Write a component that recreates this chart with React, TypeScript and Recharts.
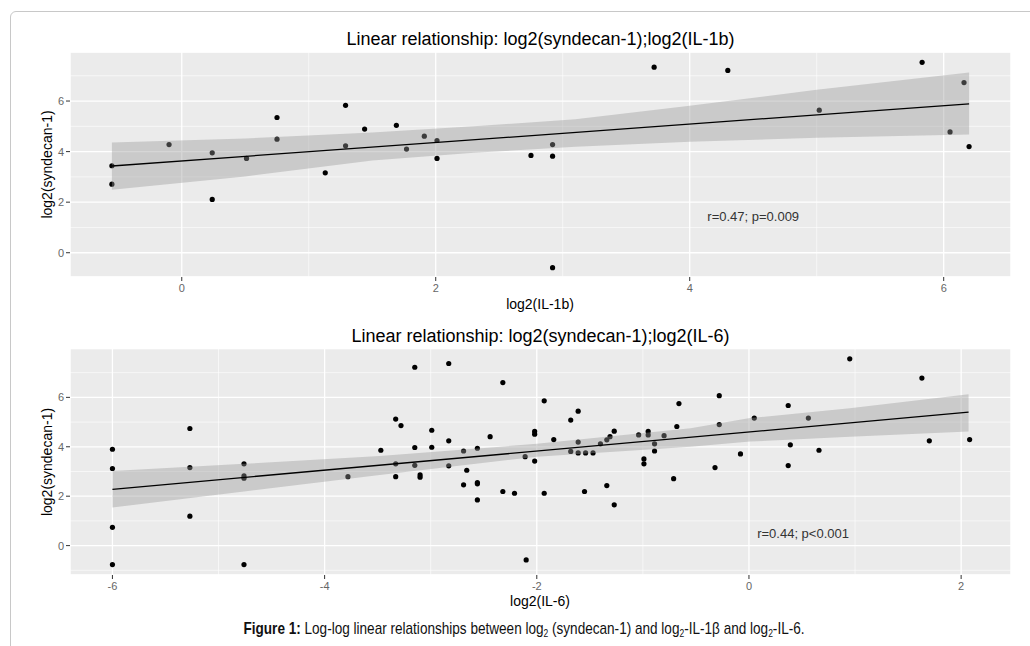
import React from "react";
import {
  ComposedChart,
  XAxis,
  YAxis,
  CartesianGrid,
  Scatter,
  Area,
  Line,
  ReferenceDot,
} from "recharts";

// points: [log2(IL-1b), log2(syndecan-1)]
const il1bPoints = [
  [-0.55, 3.44], [-0.55, 2.71], [-0.1, 4.28], [0.24, 3.95], [0.24, 2.11],
  [0.51, 3.73], [0.75, 5.35], [0.75, 4.49], [1.13, 3.16], [1.29, 5.83],
  [1.29, 4.23], [1.44, 4.89], [1.69, 5.04], [1.77, 4.1], [1.91, 4.61],
  [2.01, 4.44], [2.01, 3.73], [2.75, 3.85], [2.92, 3.82], [2.92, 4.28],
  [2.92, -0.59], [3.72, 7.34], [4.3, 7.21], [5.02, 5.64], [5.83, 7.53],
  [6.05, 4.78], [6.16, 6.73], [6.2, 4.2],
];

// [log2(IL-6), log2(syndecan-1)]
const il6Points = [
  [-6.0, 3.9], [-6.0, 3.12], [-6.0, 0.74], [-6.0, -0.77],
  [-5.27, 4.74], [-5.27, 3.16], [-5.27, 1.19],
  [-4.76, 3.31], [-4.76, 2.82], [-4.76, 2.73], [-4.76, -0.77],
  [-3.78, 2.79], [-3.47, 3.86],
  [-3.33, 5.12], [-3.33, 3.31], [-3.33, 2.79], [-3.28, 4.86],
  [-3.15, 7.22], [-3.15, 3.97], [-3.15, 3.25],
  [-3.1, 2.86], [-3.1, 2.77],
  [-2.99, 4.67], [-2.99, 3.98],
  [-2.83, 7.37], [-2.83, 4.24], [-2.83, 3.23],
  [-2.69, 3.83], [-2.69, 2.46], [-2.66, 3.05],
  [-2.56, 3.94], [-2.56, 2.55], [-2.56, 2.5], [-2.56, 1.85],
  [-2.44, 4.41], [-2.32, 6.6], [-2.32, 2.19], [-2.21, 2.12],
  [-2.11, 3.6], [-2.1, -0.58],
  [-2.02, 4.62], [-2.02, 4.51], [-2.02, 3.42],
  [-1.93, 5.86], [-1.93, 2.12], [-1.84, 4.29],
  [-1.68, 5.08], [-1.68, 3.81], [-1.61, 5.44], [-1.61, 4.19], [-1.61, 3.75],
  [-1.55, 2.19], [-1.54, 3.75], [-1.47, 3.75], [-1.4, 4.12], [-1.34, 4.28], [-1.34, 2.43],
  [-1.31, 4.41], [-1.27, 4.63], [-1.27, 1.65],
  [-1.04, 4.48], [-0.95, 4.62], [-0.95, 4.48], [-0.99, 3.51], [-0.99, 3.31],
  [-0.89, 4.12], [-0.89, 3.83], [-0.8, 4.45], [-0.71, 2.71], [-0.68, 4.82], [-0.66, 5.75],
  [-0.28, 6.07], [-0.28, 4.9], [-0.32, 3.16], [-0.08, 3.71], [0.05, 5.16],
  [0.37, 5.67], [0.39, 4.08], [0.37, 3.24], [0.56, 5.16], [0.66, 3.86], [0.95, 7.56],
  [1.63, 6.78], [1.7, 4.24], [2.08, 4.29],
];

// fitted line and 95% band, read at a few x positions
const il1bFitX = [-0.55, 6.2];
const il1bFitY = [3.43, 5.89];
const il1bBandX = [-0.55, 0.5, 1.5, 2.3, 3.1, 4.0, 5.0, 6.2];
const il1bBandLo = [2.49, 3.02, 3.65, 3.95, 4.19, 4.39, 4.55, 4.68];
const il1bBandHi = [4.36, 4.52, 4.76, 5.0, 5.28, 5.81, 6.45, 7.13];

const il6FitX = [-6.0, 2.07];
const il6FitY = [2.28, 5.4];
const il6BandX = [-6.0, -4.76, -3.48, -2.0, -0.55, 0.01, 0.95, 2.07];
const il6BandLo = [1.54, 2.19, 2.86, 3.6, 4.0, 4.21, 4.41, 4.62];
const il6BandHi = [3.02, 3.31, 3.63, 4.12, 4.75, 5.16, 5.56, 6.13];

const yTicks = [0, 2, 4, 6];
const il1bTicks = [0, 2, 4, 6];
const il1bMinorX = [1, 3, 5];
const il1bMinorY = [1, 3, 5, 7];
const il6Ticks = [-6, -4, -2, 0, 2];
const il6MinorX = [-5, -3, -1, 1];
const il6MinorY = [-1, 1, 3, 5, 7];

const FONT = "'Liberation Sans', Arial, sans-serif";

const Dot = (props: any) => (
  <circle cx={props.cx} cy={props.cy} r={2.6} fill="#000" />
);

const toPts = (arr: number[][]) => arr.map(([x, y]) => ({ x, y }));
const toLine = (xs: number[], ys: number[]) => xs.map((x, i) => ({ x, y: ys[i] }));
const toBand = (xs: number[], lo: number[], hi: number[]) =>
  xs.map((x, i) => ({ x, band: [lo[i], hi[i]] }));

interface PanelProps {
  height: number;
  marginTop: number;
  xDomain: [number, number];
  yDomain: [number, number];
  xTicks: number[];
  minorX: number[];
  minorY: number[];
  points: number[][];
  fit: { x: number; y: number }[];
  band: { x: number; band: number[] }[];
  note: string;
  noteAt: [number, number];
}

const Panel = (p: PanelProps) => {
  const tick = { fill: "#666", fontSize: 11, fontFamily: FONT };
  return (
    <ComposedChart
      width={1030}
      height={p.height}
      margin={{ top: p.marginTop, right: 19, bottom: 3, left: 10 }}
    >
      <XAxis xAxisId="minor" type="number" dataKey="x" domain={p.xDomain} ticks={p.minorX} allowDataOverflow hide />
      <YAxis yAxisId="minor" type="number" dataKey="y" domain={p.yDomain} ticks={p.minorY} allowDataOverflow hide />
      <CartesianGrid xAxisId="minor" yAxisId="minor" fill="#ebebeb" stroke="#fff" strokeWidth={0.6} />
      <CartesianGrid stroke="#fff" strokeWidth={1.3} />
      <XAxis
        type="number"
        dataKey="x"
        domain={p.xDomain}
        ticks={p.xTicks}
        allowDataOverflow
        height={20}
        axisLine={false}
        tickSize={4}
        tickMargin={3}
        tickLine={{ stroke: "#333" }}
        tick={tick}
      />
      <YAxis
        type="number"
        dataKey="y"
        domain={p.yDomain}
        ticks={yTicks}
        allowDataOverflow
        width={60}
        axisLine={false}
        tickSize={4}
        tickMargin={2}
        tickLine={{ stroke: "#333" }}
        tick={tick}
      />
      {/* points under the ribbon, like geom_point + geom_smooth */}
      <Scatter data={toPts(p.points)} dataKey="y" shape={Dot} isAnimationActive={false} zIndex={50} />
      <Area
        data={p.band}
        dataKey="band"
        type="linear"
        stroke="none"
        fill="#999999"
        fillOpacity={0.4}
        isAnimationActive={false}
        zIndex={60}
      />
      <Line
        data={p.fit}
        dataKey="y"
        type="linear"
        stroke="#000"
        strokeWidth={1.3}
        dot={false}
        isAnimationActive={false}
        zIndex={70}
      />
      <ReferenceDot
        x={p.noteAt[0]}
        y={p.noteAt[1]}
        r={0}
        fill="none"
        stroke="none"
        label={{ value: p.note, position: "center", fill: "#333", fontSize: 13, fontFamily: FONT }}
      />
    </ComposedChart>
  );
};

export default function App() {
  return (
    <div
      style={{
        position: "fixed",
        left: 0,
        top: 0,
        width: 1030,
        height: 646,
        overflow: "hidden",
        background: "#fff",
        fontFamily: FONT,
      }}
    >
      <div
        style={{
          position: "absolute",
          left: 10,
          top: 11,
          width: 1100,
          height: 700,
          border: "1.5px solid #c8c8c8",
          borderRadius: 6,
        }}
      />
      <div style={{ position: "absolute", left: 0, top: 0 }}>
        <Panel
          height={300}
          marginTop={52}
          xDomain={[-0.88, 6.53]}
          yDomain={[-0.96, 7.94]}
          xTicks={il1bTicks}
          minorX={il1bMinorX}
          minorY={il1bMinorY}
          points={il1bPoints}
          fit={toLine(il1bFitX, il1bFitY)}
          band={toBand(il1bBandX, il1bBandLo, il1bBandHi)}
          note="r=0.47; p=0.009"
          noteAt={[4.5, 1.42]}
        />
      </div>
      <div style={{ position: "absolute", left: 0, top: 318 }}>
        <Panel
          height={280}
          marginTop={30.7}
          xDomain={[-6.4, 2.47]}
          yDomain={[-1.19, 7.97]}
          xTicks={il6Ticks}
          minorX={il6MinorX}
          minorY={il6MinorY}
          points={il6Points}
          fit={toLine(il6FitX, il6FitY)}
          band={toBand(il6BandX, il6BandLo, il6BandHi)}
          note="r=0.44; p<0.001"
          noteAt={[0.51, 0.51]}
        />
      </div>
      <svg
        width={1030}
        height={646}
        style={{ position: "absolute", left: 0, top: 0, pointerEvents: "none" }}
        fontFamily={FONT}
      >
        <text x={540.5} y={45} textAnchor="middle" fontSize={18} fill="#000">
          Linear relationship: log2(syndecan-1);log2(IL-1b)
        </text>
        <text x={540.5} y={341.7} textAnchor="middle" fontSize={18} fill="#000">
          Linear relationship: log2(syndecan-1);log2(IL-6)
        </text>
        <text x={540} y={309} textAnchor="middle" fontSize={14} fill="#000">
          log2(IL-1b)
        </text>
        <text x={540} y={606} textAnchor="middle" fontSize={14} fill="#000">
          log2(IL-6)
        </text>
        <text transform="translate(51.5,164.5) rotate(-90)" textAnchor="middle" fontSize={14} fill="#000">
          log2(syndecan-1)
        </text>
        <text transform="translate(51.5,462) rotate(-90)" textAnchor="middle" fontSize={14} fill="#000">
          log2(syndecan-1)
        </text>
        {/* caption is set in a condensed face in the paper */}
        <text
          transform="translate(524,634) scale(0.848,1)"
          x={0}
          y={0}
          textAnchor="middle"
          fontSize={16}
          fill="#111"
        >
          <tspan fontWeight="bold">Figure 1:</tspan> Log-log linear relationships between log
          <tspan dy={3} fontSize={10}>2</tspan>
          <tspan dy={-3}> (syndecan-1) and log</tspan>
          <tspan dy={3} fontSize={10}>2</tspan>
          <tspan dy={-3}>-IL-1β and log</tspan>
          <tspan dy={3} fontSize={10}>2</tspan>
          <tspan dy={-3}>-IL-6.</tspan>
        </text>
      </svg>
    </div>
  );
}
